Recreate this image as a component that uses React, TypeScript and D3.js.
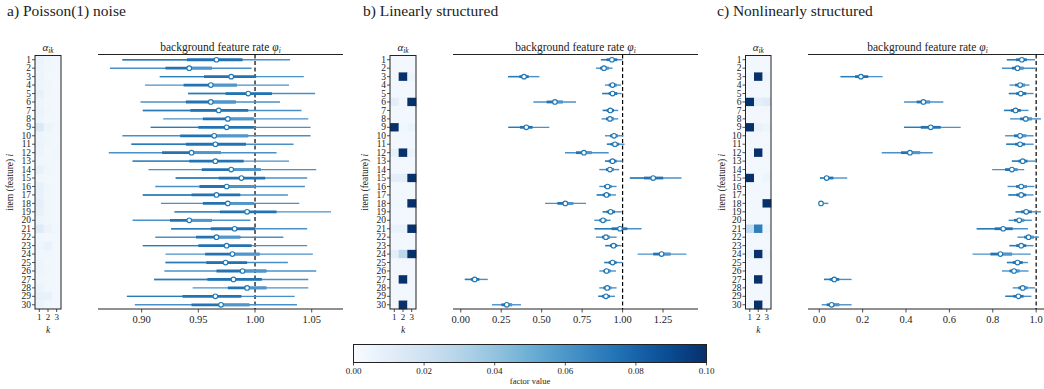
import React from 'react';
import * as d3 from 'd3';

// item ids (rows)
const items = d3.range(1, 31);
const factorIds = [1, 2, 3];

// a) Poisson(1) noise
const poissonMedian = [0.966, 0.942, 0.979, 0.961, 0.994, 0.961, 0.968, 0.976, 0.975, 0.964, 0.965, 0.944, 0.965, 0.979, 0.988, 0.975, 0.966, 0.976, 0.993, 0.942, 0.982, 0.966, 0.975, 0.980, 0.974, 0.989, 0.981, 0.993, 0.965, 0.970];
const poissonLow = [0.883, 0.872, 0.916, 0.903, 0.941, 0.899, 0.901, 0.919, 0.908, 0.883, 0.891, 0.871, 0.892, 0.906, 0.930, 0.912, 0.901, 0.917, 0.929, 0.892, 0.926, 0.912, 0.901, 0.921, 0.921, 0.920, 0.911, 0.945, 0.887, 0.894];
const poissonHigh = [1.031, 0.997, 1.043, 1.030, 1.053, 1.022, 1.041, 1.047, 1.049, 1.049, 1.034, 1.019, 1.030, 1.054, 1.046, 1.044, 1.029, 1.039, 1.067, 0.996, 1.046, 1.025, 1.046, 1.051, 1.029, 1.054, 1.047, 1.047, 1.035, 1.037];
const poissonQ1 = [0.940, 0.921, 0.955, 0.937, 0.974, 0.939, 0.943, 0.954, 0.950, 0.934, 0.939, 0.918, 0.942, 0.953, 0.968, 0.951, 0.944, 0.954, 0.969, 0.925, 0.961, 0.948, 0.950, 0.956, 0.957, 0.966, 0.958, 0.976, 0.936, 0.944];
const poissonQ3 = [0.989, 0.962, 1.001, 0.984, 1.015, 0.983, 0.994, 0.999, 0.999, 0.994, 0.992, 0.970, 0.990, 1.005, 1.009, 1.000, 0.987, 0.999, 1.019, 0.962, 1.000, 0.987, 0.997, 1.004, 0.993, 1.010, 1.006, 1.010, 0.988, 0.995];
const poissonAlpha = [
  [0.006, 0.004, 0.003], [0.005, 0.004, 0.003], [0.006, 0.003, 0.003], [0.005, 0.004, 0.002], [0.008, 0.004, 0.003],
  [0.005, 0.003, 0.003], [0.006, 0.004, 0.003], [0.005, 0.003, 0.003], [0.014, 0.006, 0.004], [0.005, 0.004, 0.003],
  [0.006, 0.004, 0.003], [0.005, 0.003, 0.004], [0.004, 0.003, 0.003], [0.008, 0.004, 0.003], [0.004, 0.003, 0.003],
  [0.008, 0.004, 0.003], [0.007, 0.004, 0.003], [0.009, 0.004, 0.003], [0.008, 0.004, 0.003], [0.005, 0.004, 0.003],
  [0.012, 0.006, 0.004], [0.004, 0.003, 0.003], [0.005, 0.007, 0.003], [0.004, 0.004, 0.003], [0.005, 0.003, 0.003],
  [0.005, 0.004, 0.003], [0.004, 0.003, 0.003], [0.006, 0.004, 0.003], [0.008, 0.007, 0.003], [0.006, 0.004, 0.003],
];

// b) Linearly structured
const linMedian = [0.934, 0.885, 0.391, 0.938, 0.938, 0.582, 0.924, 0.922, 0.405, 0.947, 0.953, 0.761, 0.938, 0.922, 1.189, 0.907, 0.901, 0.646, 0.926, 0.879, 0.984, 0.897, 0.944, 1.241, 0.938, 0.901, 0.086, 0.905, 0.897, 0.284];
const linLow = [0.866, 0.835, 0.292, 0.891, 0.874, 0.449, 0.877, 0.870, 0.294, 0.891, 0.903, 0.644, 0.891, 0.856, 1.045, 0.856, 0.840, 0.521, 0.877, 0.825, 0.827, 0.835, 0.893, 1.093, 0.887, 0.856, 0.025, 0.856, 0.850, 0.193];
const linHigh = [1.000, 0.938, 0.486, 0.990, 0.994, 0.712, 0.973, 0.973, 0.547, 1.004, 1.012, 0.914, 1.000, 0.979, 1.364, 0.963, 0.959, 0.774, 0.994, 0.926, 1.117, 0.963, 0.994, 1.395, 1.000, 0.959, 0.167, 0.963, 0.953, 0.372];
const linQ1 = [0.901, 0.860, 0.362, 0.914, 0.914, 0.531, 0.901, 0.897, 0.366, 0.922, 0.926, 0.712, 0.914, 0.897, 1.132, 0.885, 0.877, 0.597, 0.901, 0.856, 0.932, 0.872, 0.922, 1.189, 0.914, 0.881, 0.062, 0.881, 0.872, 0.251];
const linQ3 = [0.967, 0.914, 0.420, 0.963, 0.967, 0.630, 0.947, 0.947, 0.444, 0.971, 0.979, 0.809, 0.963, 0.947, 1.251, 0.932, 0.926, 0.695, 0.953, 0.901, 1.029, 0.922, 0.967, 1.296, 0.963, 0.926, 0.115, 0.930, 0.922, 0.317];
const linAlpha = [
  [0.003, 0.003, 0.003], [0.003, 0.003, 0.003], [0.003, 0.100, 0.005], [0.003, 0.003, 0.003], [0.003, 0.003, 0.003],
  [0.010, 0.004, 0.100], [0.003, 0.003, 0.003], [0.003, 0.003, 0.003], [0.100, 0.004, 0.006], [0.003, 0.003, 0.003],
  [0.003, 0.003, 0.003], [0.008, 0.100, 0.006], [0.003, 0.003, 0.003], [0.003, 0.003, 0.003], [0.010, 0.010, 0.100],
  [0.003, 0.003, 0.003], [0.003, 0.003, 0.003], [0.004, 0.004, 0.100], [0.003, 0.003, 0.003], [0.003, 0.003, 0.003],
  [0.007, 0.007, 0.100], [0.003, 0.003, 0.003], [0.003, 0.003, 0.003], [0.010, 0.028, 0.100], [0.003, 0.003, 0.003],
  [0.003, 0.003, 0.003], [0.003, 0.100, 0.003], [0.003, 0.003, 0.003], [0.003, 0.003, 0.003], [0.003, 0.100, 0.003],
];

// c) Nonlinearly structured
const nonMedian = [0.934, 0.914, 0.192, 0.926, 0.929, 0.480, 0.905, 0.952, 0.514, 0.926, 0.926, 0.418, 0.938, 0.888, 0.034, 0.931, 0.931, 0.008, 0.954, 0.922, 0.848, 0.965, 0.931, 0.835, 0.914, 0.898, 0.069, 0.938, 0.918, 0.057];
const nonLow = [0.865, 0.842, 0.098, 0.877, 0.874, 0.391, 0.852, 0.880, 0.391, 0.857, 0.862, 0.288, 0.888, 0.797, 0.003, 0.868, 0.872, 0.000, 0.905, 0.873, 0.726, 0.914, 0.877, 0.707, 0.865, 0.842, 0.022, 0.892, 0.858, 0.011];
const nonHigh = [0.995, 0.995, 0.292, 0.969, 0.988, 0.572, 0.965, 1.022, 0.652, 0.988, 0.988, 0.523, 0.995, 0.945, 0.129, 0.992, 0.988, 0.042, 1.022, 0.980, 0.962, 1.013, 0.988, 0.975, 0.962, 0.965, 0.149, 0.995, 0.978, 0.149];
const nonQ1 = [0.908, 0.888, 0.165, 0.903, 0.908, 0.449, 0.883, 0.926, 0.468, 0.898, 0.903, 0.377, 0.918, 0.857, 0.022, 0.908, 0.908, 0.003, 0.931, 0.898, 0.809, 0.945, 0.908, 0.789, 0.892, 0.877, 0.049, 0.918, 0.895, 0.034];
const nonQ3 = [0.957, 0.942, 0.226, 0.949, 0.954, 0.511, 0.929, 0.980, 0.560, 0.954, 0.949, 0.465, 0.960, 0.914, 0.065, 0.957, 0.954, 0.018, 0.980, 0.945, 0.892, 0.988, 0.954, 0.889, 0.938, 0.923, 0.092, 0.960, 0.942, 0.092];
const nonAlpha = [
  [0.003, 0.003, 0.003], [0.003, 0.003, 0.003], [0.003, 0.100, 0.005], [0.003, 0.003, 0.003], [0.003, 0.003, 0.003],
  [0.100, 0.010, 0.012], [0.003, 0.003, 0.003], [0.003, 0.003, 0.003], [0.100, 0.007, 0.005], [0.003, 0.003, 0.003],
  [0.003, 0.003, 0.003], [0.003, 0.100, 0.004], [0.003, 0.003, 0.003], [0.003, 0.003, 0.003], [0.100, 0.003, 0.005],
  [0.003, 0.003, 0.003], [0.003, 0.003, 0.003], [0.003, 0.003, 0.100], [0.003, 0.003, 0.003], [0.003, 0.003, 0.003],
  [0.025, 0.070, 0.006], [0.003, 0.003, 0.003], [0.003, 0.003, 0.003], [0.007, 0.100, 0.006], [0.003, 0.003, 0.003],
  [0.003, 0.003, 0.003], [0.003, 0.100, 0.003], [0.003, 0.003, 0.003], [0.003, 0.003, 0.003], [0.003, 0.100, 0.003],
];

const colorbarTicks = [0, 0.02, 0.04, 0.06, 0.08, 0.1];

const FONT = '"Liberation Serif", "DejaVu Serif", serif';
const INK = '#222';
const color = d3.scaleSequential(d3.interpolateBlues).domain([0, 0.1]).clamp(true);

const panels = [
  {
    title: 'a) Poisson(1) noise', titleX: 7, labelX: 13, heat: [35, 61],
    forest: [98, 343], domain: [0.8615, 1.0776], ticks: [0.9, 0.95, 1.0, 1.05], fmt: '.2f',
    median: poissonMedian, low: poissonLow, high: poissonHigh, q1: poissonQ1, q3: poissonQ3, alpha: poissonAlpha,
  },
  {
    title: 'b) Linearly structured', titleX: 363, labelX: 368, heat: [390, 416],
    forest: [453, 698], domain: [-0.048, 1.466], ticks: [0, 0.25, 0.5, 0.75, 1.0, 1.25], fmt: '.2f',
    median: linMedian, low: linLow, high: linHigh, q1: linQ1, q3: linQ3, alpha: linAlpha,
  },
  {
    title: 'c) Nonlinearly structured', titleX: 717, labelX: 725, heat: [745.5, 771],
    forest: [808, 1047], domain: [-0.052, 1.05], ticks: [0, 0.2, 0.4, 0.6, 0.8, 1.0], fmt: '.1f',
    median: nonMedian, low: nonLow, high: nonHigh, q1: nonQ1, q3: nonQ3, alpha: nonAlpha,
  },
];

const top = 55.5;
const bottom = 309;

const Panel = ({ p }) => {
  const y = d3.scaleBand().domain(items).range([top, bottom]);
  const cx = d3.scaleBand().domain(factorIds).range(p.heat);
  const x = d3.scaleLinear().domain(p.domain).range(p.forest);
  const fmt = d3.format(p.fmt);
  const mid = (top + bottom) / 2;
  return (
    <g>
      <text x={p.titleX} y={16} fontSize={15.5} fontFamily={FONT} fill={INK}>{p.title}</text>

      {/* heatmap of alpha_ik */}
      {items.map((it, i) =>
        factorIds.map((k, j) => (
          <rect key={`${it}-${k}`} x={cx(k)} y={y(it)} width={cx.bandwidth() + 0.3} height={y.bandwidth() + 0.3}
            fill={color(p.alpha[i][j])} />
        ))
      )}
      <rect x={p.heat[0]} y={top} width={p.heat[1] - p.heat[0]} height={bottom - top} fill="none" stroke={INK} strokeWidth={1} />
      <text x={(p.heat[0] + p.heat[1]) / 2} y={51} textAnchor="middle" fontSize={11} fontFamily={FONT} fill={INK}>
        <tspan fontStyle="italic">α</tspan><tspan fontSize={7.5} dy={2} fontStyle="italic">ik</tspan>
      </text>
      {items.map((it) => (
        <g key={it} transform={`translate(${p.heat[0]},${y(it) + y.bandwidth() / 2})`}>
          <line x1={-3} x2={0} stroke={INK} strokeWidth={0.8} />
          <text x={-4} dy="0.33em" textAnchor="end" fontSize={9.5} fontFamily={FONT} fill={INK}>{it}</text>
        </g>
      ))}
      {factorIds.map((k) => (
        <g key={k} transform={`translate(${cx(k) + cx.bandwidth() / 2},${bottom})`}>
          <line y1={0} y2={3} stroke={INK} strokeWidth={0.8} />
          <text y={11} textAnchor="middle" fontSize={9} fontFamily={FONT} fill={INK}>{k}</text>
        </g>
      ))}
      <text x={(p.heat[0] + p.heat[1]) / 2} y={333} textAnchor="middle" fontSize={9.5} fontStyle="italic" fontFamily={FONT} fill={INK}>k</text>
      <text transform={`translate(${p.labelX},${mid}) rotate(-90)`} textAnchor="middle" fontSize={9.5} fontFamily={FONT} fill={INK}>
        item (feature) <tspan fontStyle="italic">i</tspan>
      </text>

      {/* forest plot */}
      <text x={(p.forest[0] + p.forest[1]) / 2} y={51} textAnchor="middle" fontSize={11.5} fontFamily={FONT} fill={INK}>
        background feature rate <tspan fontStyle="italic">φ</tspan><tspan fontSize={7.5} dy={2} fontStyle="italic">i</tspan>
      </text>
      <line x1={p.forest[0]} x2={p.forest[1]} y1={top - 1} y2={top - 1} stroke={INK} strokeWidth={1} />
      <line x1={p.forest[0]} x2={p.forest[1]} y1={bottom} y2={bottom} stroke={INK} strokeWidth={1} />
      {p.ticks.map((t) => (
        <g key={t} transform={`translate(${x(t)},${bottom})`}>
          <line y1={0} y2={3.5} stroke={INK} strokeWidth={0.8} />
          <text y={14} textAnchor="middle" fontSize={10.5} fontFamily={FONT} fill={INK}>{fmt(t)}</text>
        </g>
      ))}
      <line x1={x(1)} x2={x(1)} y1={top - 1} y2={bottom} stroke="#000" strokeWidth={1.2} strokeDasharray="4,2.5" />
      {items.map((it, i) => {
        const cy = y(it) + y.bandwidth() / 2;
        return (
          <g key={it}>
            <line x1={x(p.low[i])} x2={x(p.high[i])} y1={cy} y2={cy} stroke="#4a90c8" strokeWidth={1.4} />
            <line x1={x(p.low[i])} x2={x(p.median[i])} y1={cy} y2={cy} stroke="#1f77b4" strokeWidth={1.4} opacity={i % 2 ? 0 : 0.8} />
            <line x1={x(p.q1[i])} x2={x(p.q3[i])} y1={cy} y2={cy} stroke="#2373b3" strokeWidth={2.8} />
            <line x1={x(p.median[i])} x2={x(p.q3[i])} y1={cy} y2={cy} stroke="#5b9fd3" strokeWidth={2.8} opacity={i % 2 ? 0.8 : 0} />
            <circle cx={x(p.median[i])} cy={cy} r={2.3} fill="#fff" stroke="#1f77b4" strokeWidth={1.1} />
          </g>
        );
      })}
    </g>
  );
};

const Colorbar = () => {
  const x0 = 353.5;
  const x1 = 706.5;
  const cb = d3.scaleLinear().domain([0, 0.1]).range([x0, x1]);
  const stops = d3.range(0, 1.0001, 0.05);
  return (
    <g>
      <defs>
        <linearGradient id="blues" x1="0" x2="1" y1="0" y2="0">
          {stops.map((s) => (
            <stop key={s} offset={s} stopColor={d3.interpolateBlues(s)} />
          ))}
        </linearGradient>
      </defs>
      <rect x={x0} y={344.5} width={x1 - x0} height={18} fill="url(#blues)" stroke={INK} strokeWidth={1} />
      {colorbarTicks.map((t) => (
        <g key={t} transform={`translate(${cb(t)},362.5)`}>
          <line y1={0} y2={3} stroke={INK} strokeWidth={0.8} />
          <text y={11.5} textAnchor="middle" fontSize={9} fontFamily={FONT} fill={INK}>{d3.format('.2f')(t)}</text>
        </g>
      ))}
      <text x={(x0 + x1) / 2} y={384} textAnchor="middle" fontSize={8.5} fontFamily={FONT} fill={INK}>factor value</text>
    </g>
  );
};

export default function App() {
  return (
    <svg width={1044} height={389} style={{ position: 'absolute', left: 0, top: 0, background: '#fff' }}>
      {panels.map((p) => (
        <Panel key={p.title} p={p} />
      ))}
      <Colorbar />
    </svg>
  );
}
